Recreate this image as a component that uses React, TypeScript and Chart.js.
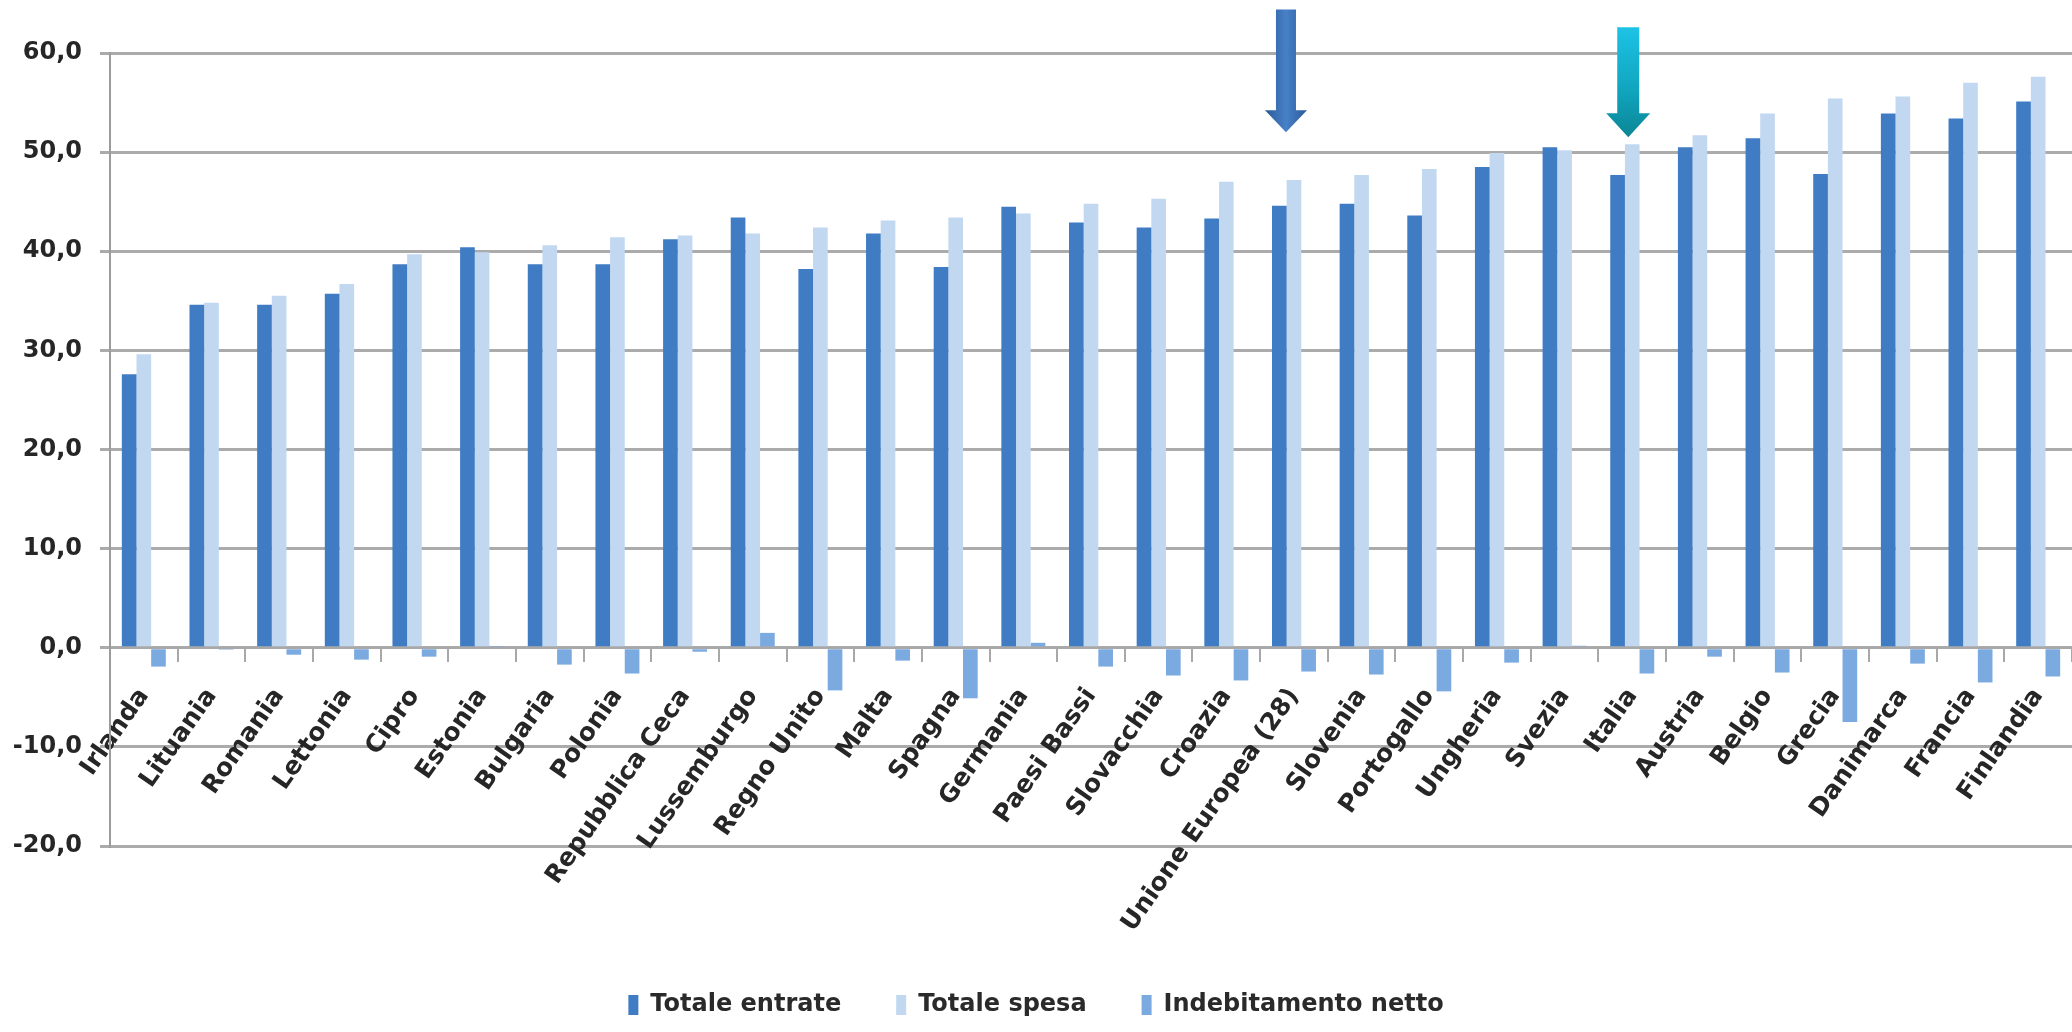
import React, { useEffect, useRef } from "react";
import { Chart, registerables } from "chart.js";

Chart.register(...registerables);

const categories = [
  "Irlanda", "Lituania", "Romania", "Lettonia", "Cipro", "Estonia", "Bulgaria", "Polonia",
  "Repubblica Ceca", "Lussemburgo", "Regno Unito", "Malta", "Spagna", "Germania", "Paesi Bassi",
  "Slovacchia", "Croazia", "Unione Europea (28)", "Slovenia", "Portogallo", "Ungheria", "Svezia",
  "Italia", "Austria", "Belgio", "Grecia", "Danimarca", "Francia", "Finlandia",
];

const totaleEntrate = [
  27.6, 34.6, 34.6, 35.7, 38.7, 40.4, 38.7, 38.7, 41.2, 43.4, 38.2, 41.8, 38.4, 44.5, 42.9,
  42.4, 43.3, 44.6, 44.8, 43.6, 48.5, 50.5, 47.7, 50.5, 51.4, 47.8, 53.9, 53.4, 55.1,
];

const totaleSpesa = [
  29.6, 34.8, 35.5, 36.7, 39.7, 39.9, 40.6, 41.4, 41.6, 41.8, 42.4, 43.1, 43.4, 43.8, 44.8,
  45.3, 47.0, 47.2, 47.7, 48.3, 49.9, 50.2, 50.8, 51.7, 53.9, 55.4, 55.6, 57.0, 57.6,
];

const indebitamentoNetto = [
  -1.9, -0.2, -0.7, -1.2, -0.9, 0.1, -1.7, -2.6, -0.4, 1.5, -4.3, -1.3, -5.1, 0.5, -1.9,
  -2.8, -3.3, -2.4, -2.7, -4.4, -1.5, 0.2, -2.6, -0.9, -2.5, -7.5, -1.6, -3.5, -2.9,
];

const seriesLabels = ["Totale entrate", "Totale spesa", "Indebitamento netto"];

const Y_MIN = -20;
const Y_MAX = 60;
const Y_STEP = 10;

// annotation arrows (category + value range on the y scale)
const ARROWS = [
  { category: "Unione Europea (28)", from: 64.4, to: 52.0, dx: -8, shaft: 20, head: 42, headLen: 22, kind: "blue" },
  { category: "Italia", from: 62.6, to: 51.5, dx: -4, shaft: 22, head: 44, headLen: 24, kind: "teal" },
];

const arrowPlugin = {
  id: "arrows",
  afterDraw(chart: any) {
    const ctx = chart.ctx;
    const xs = chart.scales.x;
    const ys = chart.scales.y;
    ARROWS.forEach((a) => {
      const idx = categories.indexOf(a.category);
      const cx = xs.getPixelForValue(idx) + a.dx;
      const yTop = ys.getPixelForValue(a.from);
      const yTip = ys.getPixelForValue(a.to);
      const sw = a.shaft / 2;
      const hw = a.head / 2;
      const hl = a.headLen;
      ctx.save();
      ctx.beginPath();
      ctx.moveTo(cx - sw, yTop);
      ctx.lineTo(cx + sw, yTop);
      ctx.lineTo(cx + sw, yTip - hl);
      ctx.lineTo(cx + hw, yTip - hl);
      ctx.lineTo(cx, yTip);
      ctx.lineTo(cx - hw, yTip - hl);
      ctx.lineTo(cx - sw, yTip - hl);
      ctx.closePath();
      let g;
      if (a.kind === "blue") {
        g = ctx.createLinearGradient(cx - hw, 0, cx + hw, 0);
        g.addColorStop(0, "#2B5A98");
        g.addColorStop(0.5, "#4781C8");
        g.addColorStop(1, "#2B5A98");
      } else {
        g = ctx.createLinearGradient(0, yTop, 0, yTip);
        g.addColorStop(0, "#1DC3E6");
        g.addColorStop(0.6, "#10A3BC");
        g.addColorStop(1, "#0B8695");
      }
      ctx.fillStyle = g;
      ctx.fill();
      ctx.restore();
    });
  },
};

export default function App() {
  const canvasRef = useRef<HTMLCanvasElement | null>(null);

  useEffect(() => {
    if (!canvasRef.current) return;
    Chart.defaults.font.family = "'DejaVu Sans', sans-serif";
    const chart = new Chart(canvasRef.current, {
      type: "bar",
      data: {
        labels: categories,
        datasets: [
          { label: seriesLabels[0], data: totaleEntrate, backgroundColor: "#3F7CC3", borderWidth: 0 },
          { label: seriesLabels[1], data: totaleSpesa, backgroundColor: "#C2D8F1", borderWidth: 0 },
          { label: seriesLabels[2], data: indebitamentoNetto, backgroundColor: "#7AAAE0", borderWidth: 0 },
        ],
      },
      options: {
        responsive: true,
        maintainAspectRatio: false,
        animation: false,
        layout: { padding: { top: 53, left: 0, right: 0, bottom: 5 } },
        datasets: { bar: { categoryPercentage: 0.65, barPercentage: 1.0 } },
        plugins: {
          tooltip: { enabled: false },
          legend: {
            position: "bottom",
            title: { display: true, text: " ", font: { size: 10, lineHeight: 1 }, padding: { top: 82, bottom: 0 } },
            labels: {
              boxWidth: 10,
              boxHeight: 20,
              padding: 55,
              color: "#2a2a2a",
              font: { size: 24, weight: "bold" },
            },
          },
        },
        scales: {
          x: {
            type: "category",
            position: { y: 0 } as any,
            offset: true,
            afterFit: (scale: any) => {
              scale.paddingLeft = 0;
              scale.paddingRight = 0;
            },
            grid: {
              offset: true,
              drawOnChartArea: false,
              drawTicks: true,
              tickLength: 13,
              color: "#A8A8A8",
              lineWidth: 2,
            },
            border: { display: true, color: "#A8A8A8", width: 2 },
            ticks: {
              autoSkip: false,
              maxRotation: 55,
              minRotation: 55,
              padding: 22,
              color: "#262626",
              font: { size: 25, weight: "bold" },
            },
          },
          y: {
            min: Y_MIN,
            max: Y_MAX,
            afterFit: (scale: any) => {
              scale.width = 110;
            },
            grid: {
              color: "#ABABAB",
              lineWidth: 3,
              tickLength: 10,
              drawTicks: true,
            },
            border: { display: true, color: "#9C9C9C", width: 2 },
            ticks: {
              stepSize: Y_STEP,
              padding: 18,
              color: "#262626",
              font: { size: 24, weight: "bold" },
              callback: (v: any) => Number(v).toFixed(1).replace(".", ","),
            },
          },
        },
      },
      plugins: [arrowPlugin],
    });
    return () => chart.destroy();
  }, []);

  return (
    <div style={{ position: "absolute", left: 0, top: 0, width: 2072, height: 1032, background: "#ffffff" }}>
      <canvas ref={canvasRef} />
    </div>
  );
}
